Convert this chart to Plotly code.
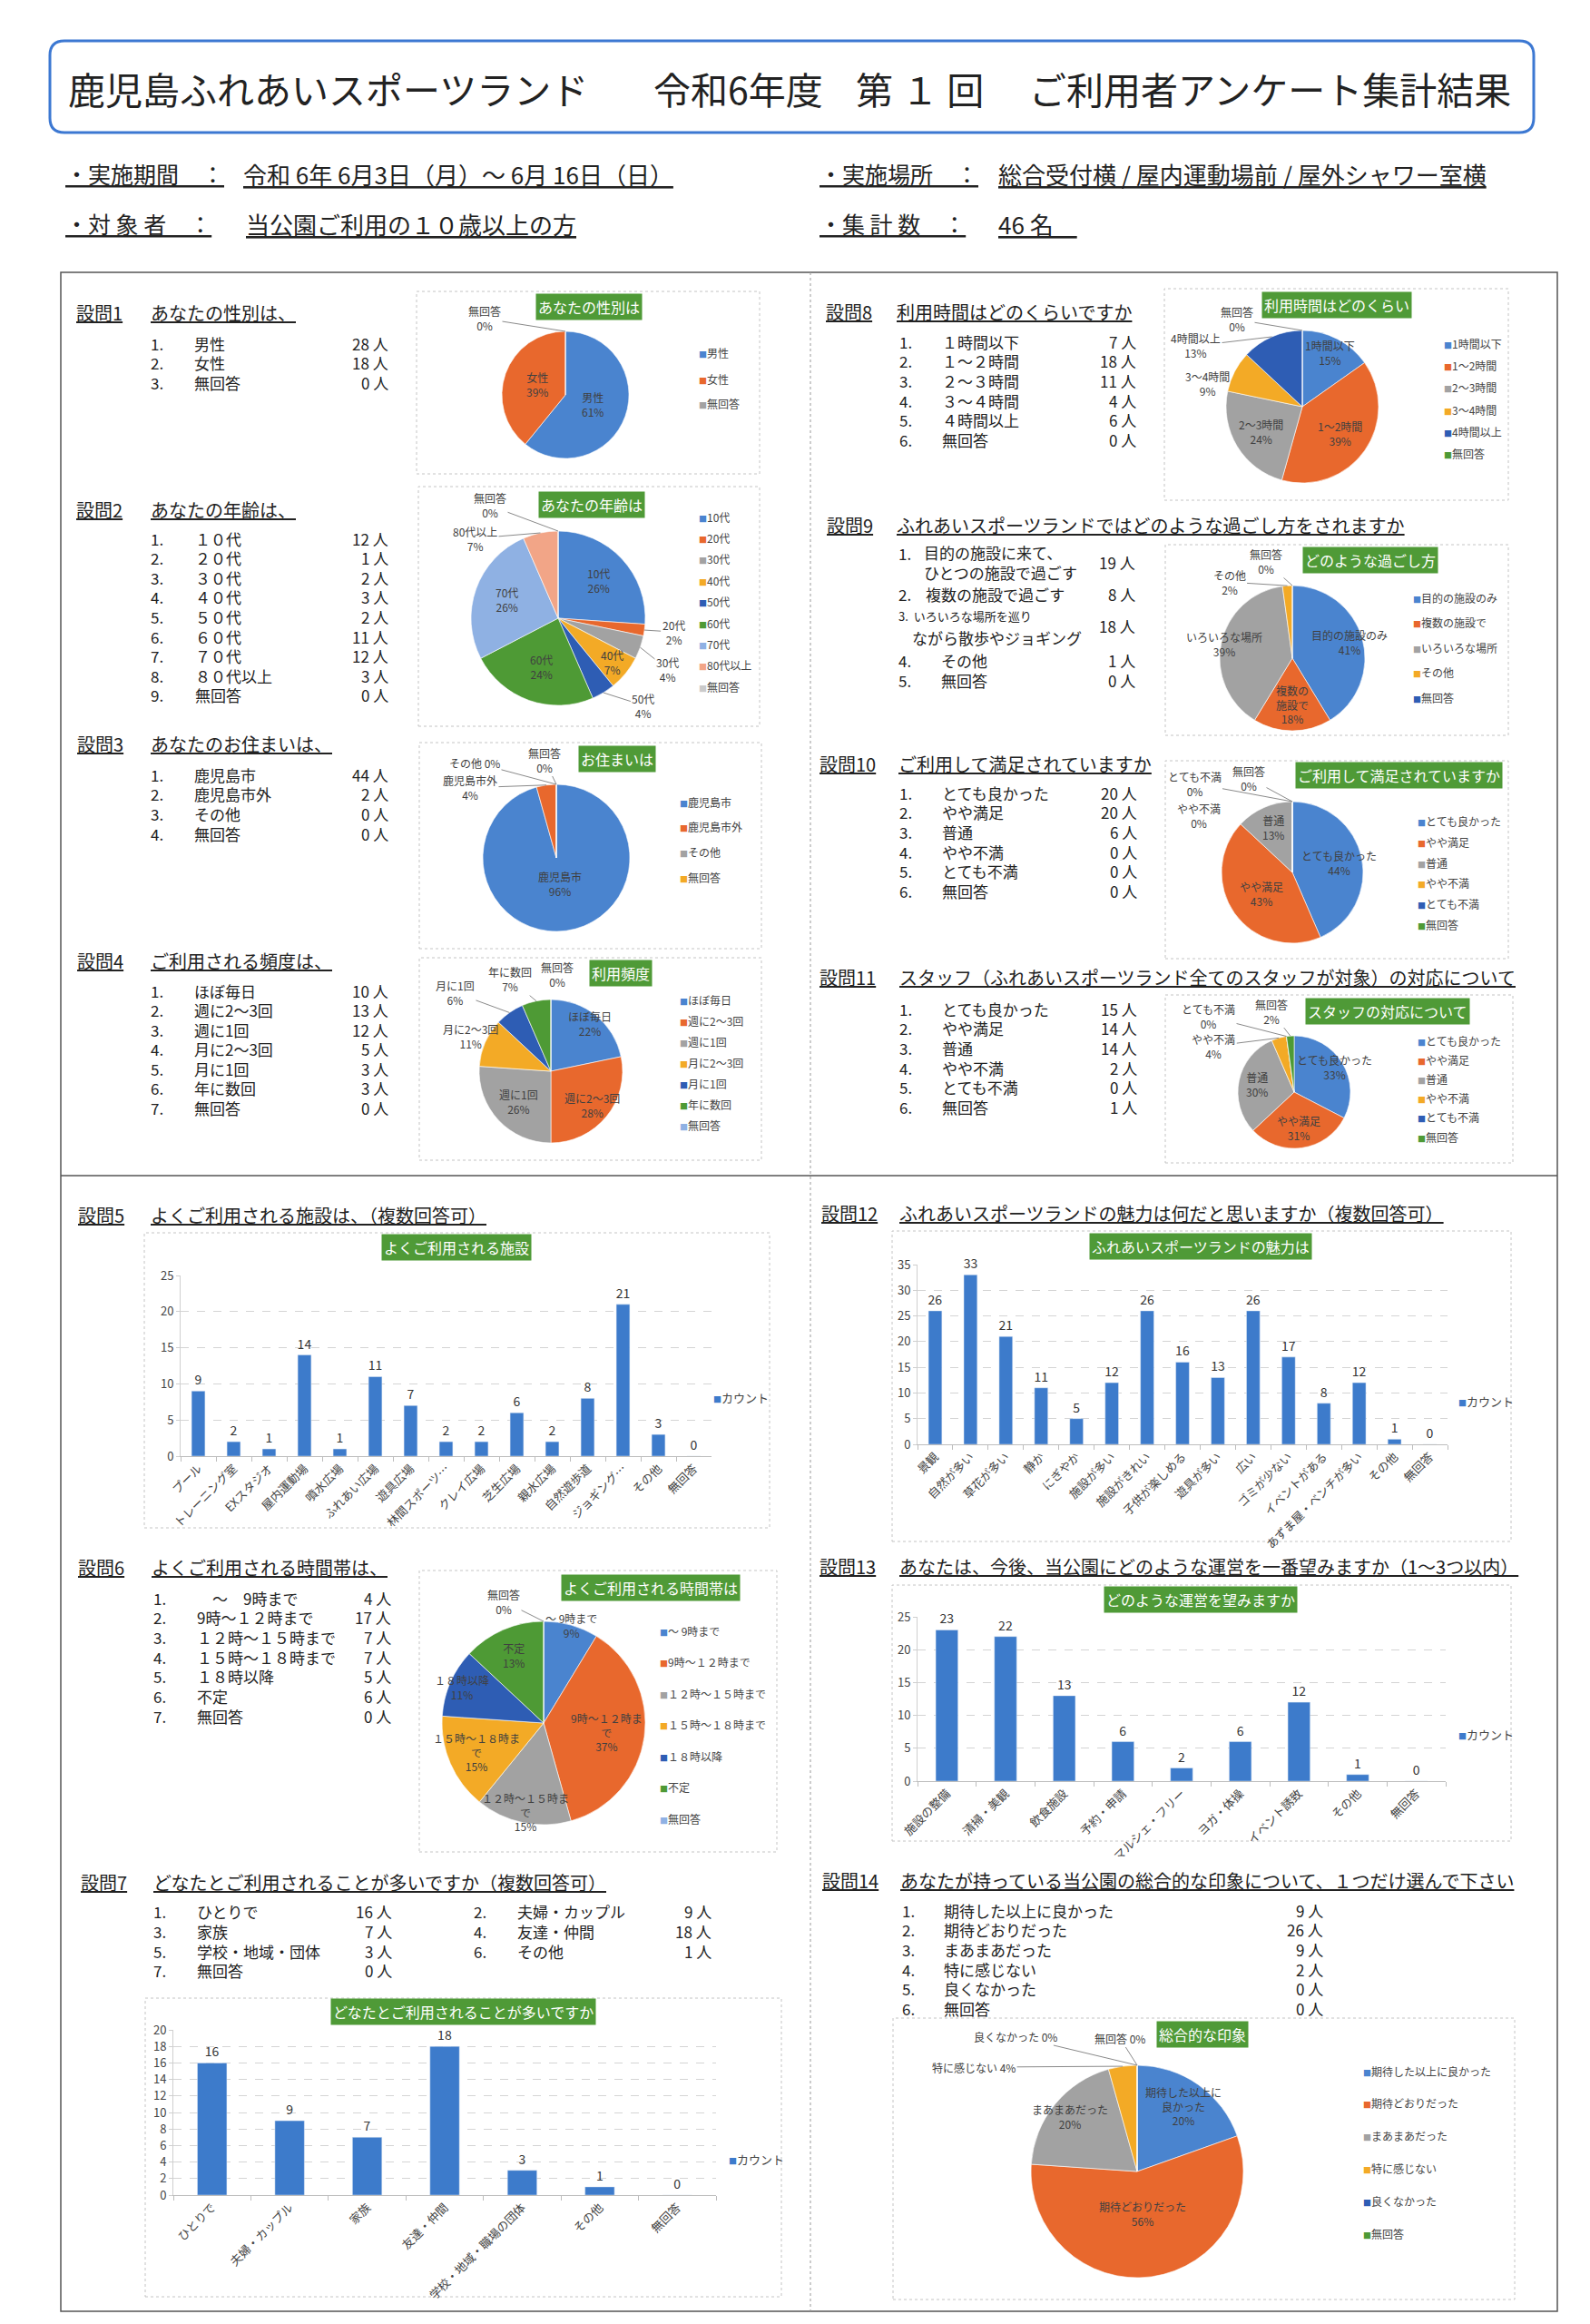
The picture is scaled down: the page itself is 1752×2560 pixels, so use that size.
import math
import plotly.graph_objects as go

W, H = 1752, 2560
FONT = "Noto Sans CJK JP"

# ---------------- data ----------------
title_parts = ["鹿児島ふれあいスポーツランド", "令和6年度", "第 １ 回", "ご利用者アンケート集計結果"]
info_period = "令和 6年 6月3日（月）～ 6月 16日（日）"
info_place = "総合受付横 / 屋内運動場前 / 屋外シャワー室横"
info_target = "当公園ご利用の１０歳以上の方"
info_total = "46 名"

q1_title = "あなたの性別は、"
q1_labels = ["男性", "女性", "無回答"]
q1_counts = [28, 18, 0]

q2_title = "あなたの年齢は、"
q2_items = ["１０代", "２０代", "３０代", "４０代", "５０代", "６０代", "７０代", "８０代以上", "無回答"]
q2_labels = ["10代", "20代", "30代", "40代", "50代", "60代", "70代", "80代以上", "無回答"]
q2_counts = [12, 1, 2, 3, 2, 11, 12, 3, 0]

q3_title = "あなたのお住まいは、"
q3_labels = ["鹿児島市", "鹿児島市外", "その他", "無回答"]
q3_counts = [44, 2, 0, 0]

q4_title = "ご利用される頻度は、"
q4_labels = ["ほぼ毎日", "週に2～3回", "週に1回", "月に2～3回", "月に1回", "年に数回", "無回答"]
q4_counts = [10, 13, 12, 5, 3, 3, 0]

q5_title = "よくご利用される施設は、（複数回答可）"
q5_cats = ["プール", "トレーニング室", "EXスタジオ", "屋内運動場", "噴水広場", "ふれあい広場", "遊具広場",
           "林間スポーツ…", "クレイ広場", "芝生広場", "親水広場", "自然遊歩道", "ジョギング…", "その他", "無回答"]
q5_vals = [9, 2, 1, 14, 1, 11, 7, 2, 2, 6, 2, 8, 21, 3, 0]

q6_title = "よくご利用される時間帯は、"
q6_items = ["　～　9時まで", "9時～１２時まで", "１２時～１５時まで", "１５時～１８時まで", "１８時以降", "不定", "無回答"]
q6_labels = ["～ 9時まで", "9時～１２時まで", "１２時～１５時まで", "１５時～１８時まで", "１８時以降", "不定", "無回答"]
q6_pie_text = ["～ 9時まで", "9時～１２時ま<br>で", "１２時～１５時ま<br>で", "１５時～１８時ま<br>で", "１８時以降", "不定", "無回答"]
q6_counts = [4, 17, 7, 7, 5, 6, 0]

q7_title = "どなたとご利用されることが多いですか（複数回答可）"
q7_items = ["ひとりで", "夫婦・カップル", "家族", "友達・仲間", "学校・地域・団体", "その他", "無回答"]
q7_cats = ["ひとりで", "夫婦・カップル", "家族", "友達・仲間", "学校・地域・職場の団体", "その他", "無回答"]
q7_counts = [16, 9, 7, 18, 3, 1, 0]

q8_title = "利用時間はどのくらいですか"
q8_items = ["１時間以下", "１～２時間", "２～３時間", "３～４時間", "４時間以上", "無回答"]
q8_labels = ["1時間以下", "1～2時間", "2～3時間", "3～4時間", "4時間以上", "無回答"]
q8_counts = [7, 18, 11, 4, 6, 0]

q9_title = "ふれあいスポーツランドではどのような過ごし方をされますか"
q9_labels = ["目的の施設のみ", "複数の施設で", "いろいろな場所", "その他", "無回答"]
q9_pie_text = ["目的の施設のみ", "複数の<br>施設で", "いろいろな場所", "その他", "無回答"]
q9_counts = [19, 8, 18, 1, 0]

q10_title = "ご利用して満足されていますか"
sat_labels = ["とても良かった", "やや満足", "普通", "やや不満", "とても不満", "無回答"]
q10_counts = [20, 20, 6, 0, 0, 0]

q11_title = "スタッフ（ふれあいスポーツランド全てのスタッフが対象）の対応について"
q11_counts = [15, 14, 14, 2, 0, 1]

q12_title = "ふれあいスポーツランドの魅力は何だと思いますか（複数回答可）"
q12_cats = ["景観", "自然が多い", "草花が多い", "静か", "にぎやか", "施設が多い", "施設がきれい", "子供が楽しめる",
            "遊具が多い", "広い", "ゴミが少ない", "イベントがある", "あずま屋・ベンチが多い", "その他", "無回答"]
q12_vals = [26, 33, 21, 11, 5, 12, 26, 16, 13, 26, 17, 8, 12, 1, 0]

q13_title = "あなたは、今後、当公園にどのような運営を一番望みますか（1～3つ以内）"
q13_cats = ["施設の整備", "清掃・美観", "飲食施設", "予約・申請", "マルシェ・フリー", "ヨガ・体操", "イベント誘致", "その他", "無回答"]
q13_vals = [23, 22, 13, 6, 2, 6, 12, 1, 0]

q14_title = "あなたが持っている当公園の総合的な印象について、１つだけ選んで下さい"
q14_labels = ["期待した以上に良かった", "期待どおりだった", "まあまあだった", "特に感じない", "良くなかった", "無回答"]
q14_pie_text = ["期待した以上に<br>良かった", "期待どおりだった", "まあまあだった", "特に感じない", "良くなかった", "無回答"]
q14_counts = [9, 26, 9, 2, 0, 0]

# ---------------- styles ----------------
C_BLUE = "#4A84CF"
C_ORANGE = "#E8682D"
C_GRAY = "#A2A2A2"
C_GOLD = "#F3AA26"
C_DBLUE = "#2E5DB4"
C_GREEN = "#4E9A35"
C_LBLUE = "#8FB1E3"
C_LORANGE = "#F2A587"
C_LGRAY = "#CACACA"
PAL = [C_BLUE, C_ORANGE, C_GRAY, C_GOLD, C_DBLUE, C_GREEN, C_LBLUE, C_LORANGE, C_LGRAY]
BAR = "#3D7BCB"
GREEN_BG = "#4F9A37"
TXT = "#222222"
LBL = "#404040"

fig = go.Figure()
annotations = []
shapes = []
layout_axes = {}


def PX(x):
    return x / W


def PY(y):
    return 1 - y / H


def text(x, y, s, size=17, anchor="left", color=TXT, yanchor="middle"):
    annotations.append(dict(x=PX(x), y=PY(y), xref="paper", yref="paper", text=s, showarrow=False,
                            xanchor=anchor, yanchor=yanchor, align=anchor if anchor != "center" else "center",
                            font=dict(family=FONT, size=size, color=color)))


def rect(x0, y0, x1, y1, color="#c4c4c4", width=1, dash="dot"):
    shapes.append(dict(type="rect", xref="paper", yref="paper", x0=PX(x0), x1=PX(x1), y0=PY(y1), y1=PY(y0),
                       line=dict(color=color, width=width, dash=dash), layer="below"))


def line(x0, y0, x1, y1, color="#555", width=1.5, dash="solid"):
    shapes.append(dict(type="line", xref="paper", yref="paper", x0=PX(x0), x1=PX(x1), y0=PY(y0), y1=PY(y1),
                       line=dict(color=color, width=width, dash=dash)))


def qtitle(xq, xt, y, num, s, size=20):
    text(xq, y, f"<u>設問{num}</u>", size)
    text(xt, y, f"<u>{s}</u>", size)


def items(xn, xl, xc, y0, step, labels, counts, size=17):
    for i, (l, c) in enumerate(zip(labels, counts)):
        y = y0 + i * step
        text(xn, y, f"{i + 1}.", size)
        text(xl, y, l, size)
        text(xc, y, f"{c} 人", size, anchor="right")


def gtitle(cx, cy, s, size=16):
    annotations.append(dict(x=PX(cx), y=PY(cy), xref="paper", yref="paper", text=s, showarrow=False,
                            xanchor="center", yanchor="middle", bgcolor=GREEN_BG, borderpad=2,
                            font=dict(family=FONT, size=size, color="white")))


def legend(x, y0, step, labels, colors, size=12):
    for i, (l, c) in enumerate(zip(labels, colors)):
        text(x, y0 + i * step, f"<span style='color:{c};font-size:9px'>■</span>{l}", size, color="#444")


def excel_pcts(values):
    total = sum(values)
    raw = [v * 100.0 / total for v in values]
    r = [int(math.floor(x + 0.5)) for x in raw]
    diff = 100 - sum(r)
    while diff != 0:
        if diff > 0:
            errs = [x - ri for x, ri in zip(raw, r)]
            i = max(range(len(r)), key=lambda k: (errs[k], -k))
            r[i] += 1
            diff -= 1
        else:
            errs = [ri - x for x, ri in zip(raw, r)]
            i = max(range(len(r)), key=lambda k: (errs[k], -k))
            r[i] -= 1
            diff += 1
    return r


def add_pie(labels, values, cx, cy, r, place, disp=None, size=12):
    colors = PAL[:len(labels)]
    fig.add_trace(go.Pie(labels=labels, values=values, sort=False, direction="clockwise", rotation=0,
                         marker=dict(colors=colors, line=dict(color="white", width=0.6)),
                         textinfo="none", hoverinfo="label+value+percent", showlegend=False,
                         domain=dict(x=[PX(cx - r), PX(cx + r)], y=[PY(cy + r), PY(cy - r)])))
    pcts = excel_pcts(values)
    total = float(sum(values))
    cum = 0.0
    names = disp or labels
    for i, v in enumerate(values):
        frac = v / total
        th = (cum + frac / 2) * 2 * math.pi
        cum += frac
        p = place[i]
        sep = p.get("sep", "<br>")
        s = f"{names[i]}{sep}{pcts[i]}%"
        if p["m"] == "in":
            f = p["f"]
            x = cx + f * r * math.sin(th)
            y = cy - f * r * math.cos(th)
            text(x, y, s, size, anchor="center", color=LBL)
        else:
            x = cx + r * math.sin(th)
            y = cy - r * math.cos(th)
            if p["m"] == "out":
                annotations.append(dict(x=PX(x), y=PY(y), xref="paper", yref="paper", text=s,
                                        showarrow=True, arrowhead=0, arrowwidth=1, arrowcolor="#8a8a8a",
                                        ax=p["ax"], ay=p["ay"], standoff=0,
                                        font=dict(family=FONT, size=size, color=LBL)))
            else:
                annotations.append(dict(x=PX(x), y=PY(y), xref="paper", yref="paper", text=s,
                                        showarrow=False, xshift=p["ax"], yshift=-p["ay"],
                                        xanchor="center", yanchor="middle",
                                        font=dict(family=FONT, size=size, color=LBL)))


def IN(f, **kw):
    d = dict(m="in", f=f)
    d.update(kw)
    return d


def OUT(ax, ay, **kw):
    d = dict(m="out", ax=ax, ay=ay)
    d.update(kw)
    return d


def FREE(ax, ay, **kw):
    d = dict(m="free", ax=ax, ay=ay)
    d.update(kw)
    return d


def add_bars(idx, cats, vals, x0, x1, ytop, ybot, ymax, dtick, lx, ly):
    xa = "x" if idx == 1 else f"x{idx}"
    ya = "y" if idx == 1 else f"y{idx}"
    fig.add_trace(go.Bar(x=cats, y=vals, xaxis=xa, yaxis=ya, marker=dict(color=BAR),
                         texttemplate="%{y}", textposition="outside", cliponaxis=False, constraintext="none",
                         textfont=dict(family=FONT, size=14, color="#333"), showlegend=False))
    key = "" if idx == 1 else str(idx)
    layout_axes["xaxis" + key] = dict(domain=[PX(x0), PX(x1)], anchor=ya, tickangle=-45, automargin=False,
                                      tickfont=dict(family=FONT, size=13, color="#444"),
                                      showline=True, linecolor="#bdbdbd", ticks="outside", tickson="boundaries",
                                      ticklen=5, tickcolor="#bdbdbd", showgrid=False, fixedrange=True)
    layout_axes["yaxis" + key] = dict(domain=[PY(ybot), PY(ytop)], anchor=xa, range=[0, ymax], dtick=dtick,
                                      automargin=False, tickfont=dict(family=FONT, size=13, color="#444"),
                                      showgrid=True, gridcolor="#d4d4d4", griddash="dash", gridwidth=1,
                                      showline=True, linecolor="#cfcfcf", ticks="outside", ticklen=4,
                                      tickcolor="#cfcfcf", zeroline=False, fixedrange=True)
    text(lx, ly, f"<span style='color:{BAR};font-size:9px'>■</span>カウント", 13, color="#444")


# ---------------- header ----------------
def rrect_path(x0, y0, x1, y1, rad):
    def P(x, y):
        return f"{PX(x)},{PY(y)}"
    return (f"M {P(x0 + rad, y0)} L {P(x1 - rad, y0)} Q {P(x1, y0)} {P(x1, y0 + rad)} "
            f"L {P(x1, y1 - rad)} Q {P(x1, y1)} {P(x1 - rad, y1)} L {P(x0 + rad, y1)} "
            f"Q {P(x0, y1)} {P(x0, y1 - rad)} L {P(x0, y0 + rad)} Q {P(x0, y0)} {P(x0 + rad, y0)} Z")


shapes.append(dict(type="path", xref="paper", yref="paper", path=rrect_path(47, 37, 1682, 138, 16),
                   line=dict(color="#3C78D2", width=3)))
for xpos, part in zip([65, 710, 933, 1124], title_parts):
    text(xpos, 89, part, 41)

text(62, 183, "<u>・実施期間　：</u>", 25)
text(258, 183, f"<u>{info_period}</u>", 26)
text(893, 183, "<u>・実施場所　：</u>", 25)
text(1090, 183, f"<u>{info_place}</u>", 26)
text(62, 238, "<u>・対 象 者　：</u>", 25)
text(261, 238, f"<u>{info_target}</u>", 26)
text(893, 238, "<u>・集 計 数　：</u>", 25)
text(1090, 238, f"<u>{info_total}　</u>", 26)

# frames
rect(59, 292, 1708, 2538, color="#555", width=1.5, dash="solid")
line(59, 1287, 1708, 1287)
line(885, 292, 885, 2538, color="#9a9a9a", width=1, dash="dot")

# ---------------- Q1 ----------------
qtitle(74, 156, 337, 1, q1_title)
items(156, 204, 422, 370, 21.5, q1_labels, q1_counts)
rect(451, 313, 829, 514)
gtitle(641, 330, "あなたの性別は")
add_pie(q1_labels, q1_counts, 615, 427, 70, [IN(0.45), IN(0.47), OUT(-89, -14)])
legend(760, 381, 28, q1_labels, PAL)

# ---------------- Q2 ----------------
qtitle(74, 156, 553, 2, q2_title)
items(156, 205, 422, 585, 21.6, q2_items, q2_counts)
rect(453, 528, 829, 792)
gtitle(644, 548, "あなたの年齢は")
add_pie(q2_labels, q2_counts, 607, 673, 96,
        [IN(0.63), OUT(32, 2), OUT(30, 24), IN(0.8), OUT(44, 14), IN(0.59), IN(0.63), OUT(-72, 6), OUT(-75, -28)])
legend(760, 561, 23.4, q2_labels, PAL)

# ---------------- Q3 ----------------
qtitle(75, 156, 812, 3, q3_title)
items(156, 204, 422, 845, 21.7, q3_labels, q3_counts)
rect(454, 810, 831, 1037)
gtitle(672, 828, "お住まいは")
add_pie(q3_labels, q3_counts, 605, 937, 81,
        [IN(0.35), OUT(-84, 3), OUT(-90, -24, sep=" "), OUT(-13, -27)])
legend(739, 875, 27.7, q3_labels, PAL)

# ---------------- Q4 ----------------
qtitle(75, 156, 1050, 4, q4_title)
items(156, 204, 422, 1083, 21.5, q4_labels, q4_counts)
rect(454, 1047, 831, 1270)
gtitle(676, 1064, "利用頻度")
add_pie(q4_labels, q4_counts, 599, 1172, 79,
        [IN(0.86), IN(0.75), IN(0.62), IN(1.22), OUT(-60, -22), OUT(-29, -24), FREE(7, -28)])
legend(739, 1093, 23, q4_labels, PAL)

# ---------------- Q8 ----------------
qtitle(900, 978, 335, 8, q8_title)
items(981, 1028, 1246, 368, 21.7, q8_items, q8_counts)
rect(1275, 310, 1654, 543)
gtitle(1465, 328, "利用時間はどのくらい")
add_pie(q8_labels, q8_counts, 1427, 440, 84,
        [IN(0.8), IN(0.6), IN(0.63), FREE(-30, 13), OUT(-84, 10), OUT(-72, -12)])
legend(1581, 370, 24.4, q8_labels, PAL)

# ---------------- Q9 ----------------
qtitle(901, 978, 570, 9, q9_title)
text(980, 602, "1.", 17)
text(1008, 612, "目的の施設に来て、<br>ひとつの施設で過ごす", 17)
text(1245, 611, f"{q9_counts[0]} 人", 17, anchor="right")
text(980, 647, "2.", 17)
text(1010, 647, "複数の施設で過ごす", 17)
text(1245, 647, f"{q9_counts[1]} 人", 17, anchor="right")
text(980, 670, "3.  いろいろな場所を巡り", 13)
text(995, 694, "ながら散歩やジョギング", 17)
text(1245, 682, f"{q9_counts[2]} 人", 17, anchor="right")
text(980, 719, "4.", 17)
text(1027, 719, q9_labels[3], 17)
text(1245, 719, f"{q9_counts[3]} 人", 17, anchor="right")
text(980, 741, "5.", 17)
text(1027, 741, q9_labels[4], 17)
text(1245, 741, f"{q9_counts[4]} 人", 17, anchor="right")
rect(1276, 592, 1654, 802)
gtitle(1502, 609, "どのような過ごし方")
add_pie(q9_labels, q9_counts, 1416, 717, 80,
        [IN(0.82), IN(0.64), IN(0.96), OUT(-64, -4), OUT(-29, -26)], disp=q9_pie_text)
legend(1547, 650, 27.5, q9_labels, PAL)

# ---------------- Q10 ----------------
qtitle(893, 980, 833, 10, q10_title)
items(981, 1028, 1247, 865, 21.7, sat_labels, q10_counts)
rect(1276, 830, 1654, 1048)
gtitle(1533, 846, "ご利用して満足されていますか")
add_pie(sat_labels, q10_counts, 1416, 953, 78,
        [IN(0.67), IN(0.53), IN(0.69), FREE(-103, 15), OUT(-108, -20), OUT(-48, -26)])
legend(1552, 897, 22.6, sat_labels, PAL)

# ---------------- Q11 ----------------
qtitle(893, 981, 1068, 11, q11_title)
items(981, 1028, 1247, 1103, 21.7, sat_labels, q11_counts)
rect(1276, 1088, 1659, 1273)
gtitle(1521, 1106, "スタッフの対応について")
add_pie(sat_labels, q11_counts, 1418, 1195, 62,
        [IN(0.84), IN(0.64), IN(0.67), OUT(-72, 9), OUT(-86, -22), OUT(-21, -27)])
legend(1552, 1138, 21.2, sat_labels, PAL)

# ---------------- Q5 ----------------
qtitle(76, 156, 1330, 5, q5_title)
rect(151, 1350, 840, 1675)
gtitle(495, 1366, "よくご利用される施設")
add_bars(1, q5_cats, q5_vals, 191, 776, 1397, 1596, 25, 5, 776, 1531)

# ---------------- Q12 ----------------
qtitle(895, 981, 1328, 12, q12_title)
rect(975, 1348, 1657, 1690)
gtitle(1315, 1365, "ふれあいスポーツランドの魅力は")
add_bars(2, q12_cats, q12_vals, 1003, 1587, 1385, 1583, 35, 5, 1597, 1535)

# ---------------- Q13 ----------------
qtitle(893, 981, 1717, 13, q13_title)
rect(975, 1738, 1657, 2020)
gtitle(1315, 1754, "どのような運営を望みますか")
add_bars(3, q13_cats, q13_vals, 1003, 1585, 1773, 1954, 25, 5, 1597, 1902)

# ---------------- Q6 ----------------
qtitle(76, 157, 1718, 6, q6_title)
items(159, 207, 425, 1752, 21.7, q6_items, q6_counts)
rect(454, 1722, 848, 2032)
gtitle(709, 1741, "よくご利用される時間帯は")
add_pie(q6_labels, q6_counts, 591, 1890, 112,
        [IN(1.0), IN(0.63), IN(0.89), IN(0.72), IN(0.88), IN(0.73), OUT(-44, -22)], disp=q6_pie_text)
legend(717, 1788, 34.5, q6_labels, PAL)

# ---------------- Q7 ----------------
qtitle(79, 159, 2065, 7, q7_title)
rows_y = [2097, 2119, 2141, 2162]
for i, (lab, c) in enumerate(zip(q7_items, q7_counts)):
    if i % 2 == 0:
        xn, xl, xc = 159, 207, 426
    else:
        xn, xl, xc = 512, 560, 778
    y = rows_y[i // 2]
    text(xn, y, f"{i + 1}.", 17)
    text(xl, y, lab, 17)
    text(xc, y, f"{c} 人", 17, anchor="right")
rect(152, 2193, 853, 2522)
gtitle(502, 2208, "どなたとご利用されることが多いですか")
add_bars(4, q7_cats, q7_counts, 183, 781, 2228, 2410, 20, 2, 793, 2370)

# ---------------- Q14 ----------------
qtitle(896, 982, 2063, 14, q14_title)
items(984, 1030, 1452, 2096, 21.7, q14_labels, q14_counts)
rect(976, 2215, 1661, 2525)
gtitle(1317, 2233, "総合的な印象")
add_pie(q14_labels, q14_counts, 1245, 2384, 117,
        [IN(0.75), IN(0.4), IN(0.82), OUT(-164, 1, sep=" "), OUT(-134, -32, sep=" "), OUT(-19, -30, sep=" ")],
        disp=q14_pie_text)
legend(1492, 2273, 35.8, q14_labels, PAL)

fig.update_layout(width=W, height=H, margin=dict(l=0, r=0, t=0, b=0), paper_bgcolor="white",
                  plot_bgcolor="rgba(0,0,0,0)", showlegend=False, bargap=0.62,
                  font=dict(family=FONT, color=TXT), annotations=annotations, shapes=shapes, **layout_axes)

fig.write_html("out.html")
